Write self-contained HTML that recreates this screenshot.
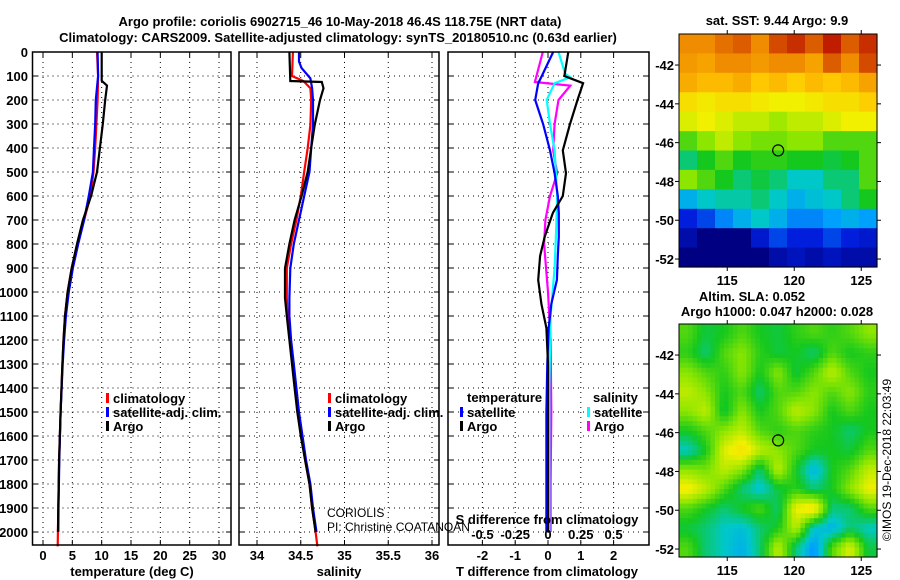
<!DOCTYPE html>
<html><head><meta charset="utf-8"><style>
body{margin:0;background:#fff;}
svg{display:block;font-family:"Liberation Sans",sans-serif;}
.b{font-weight:bold;font-size:13px;}
.t{font-weight:bold;font-size:13px;}
.n{font-weight:normal;font-size:12px;}
</style></head><body>
<svg id="c" width="900" height="580" viewBox="0 0 900 580"></svg>
<script>
// ---- profile data ----
const tArgoDepth=[0,120,140,200,300,400,500,600,700,800,900,1000,1100,1200,1300,1500,1700,1900,2000];
const tArgo=[10.0,10.0,10.9,10.6,10.2,9.7,9.2,8.2,6.8,5.8,4.9,4.2,3.75,3.5,3.3,3.0,2.75,2.6,2.55];
const tClimDepth=[0,100,200,300,400,500,600,700,800,900,1000,1100,1200,1300,1500,1700,1900,2060];
const tClim=[9.2,9.4,9.3,9.1,8.9,8.6,8.1,7.0,5.9,4.9,4.2,3.75,3.5,3.3,3.0,2.75,2.6,2.5];
const tSatDepth=[0,100,200,300,400,500,600,700,800,900,1000,1100,1200,1300,1500,1700,1900,2000];
const tSat=[9.3,9.4,9.0,8.9,8.7,8.5,7.8,7.0,6.0,5.1,4.4,3.9,3.6,3.35,3.0,2.78,2.65,2.6];
const sArgoDepth=[0,121,125,151,200,304,400,499,600,700,800,901,1025,1100,1200,1300,1400,1500,1600,1700,1800,1900,2000];
const sArgo=[34.37,34.38,34.74,34.76,34.72,34.66,34.62,34.58,34.51,34.43,34.37,34.32,34.32,34.34,34.37,34.40,34.43,34.46,34.5,34.55,34.6,34.63,34.67];
const sClimDepth=[0,100,121,151,200,304,400,499,600,700,800,901,1025,1100,1200,1300,1400,1500,1600,1700,1800,1900,2000,2060];
const sClim=[34.41,34.40,34.53,34.61,34.62,34.61,34.58,34.54,34.5,34.45,34.39,34.34,34.34,34.35,34.38,34.41,34.44,34.47,34.51,34.55,34.6,34.63,34.67,34.69];
const sSatDepth=[0,40,67,110,151,200,304,400,499,600,700,800,901,1025,1100,1200,1300,1400,1500,1600,1700,1800,1900,2000];
const sSat=[34.48,34.48,34.51,34.61,34.63,34.64,34.64,34.62,34.6,34.54,34.48,34.42,34.38,34.37,34.37,34.39,34.42,34.45,34.48,34.52,34.56,34.61,34.64,34.68];
const dDepth=[0,100,130,200,300,410,505,600,670,770,850,950,1050,1150,1300,1500,1800,2000];
const dTArgo=[0.62,0.5,1.07,0.9,0.67,0.45,0.55,0.45,0.15,-0.1,-0.24,-0.3,-0.2,-0.05,0,0,0,0];
const dTSat=[0.16,-0.19,-0.3,-0.39,-0.15,0.06,0.2,0.3,0.33,0.33,0.3,0.27,0.1,0.02,-0.02,-0.05,-0.05,-0.05];
const dSArgoDepth=[0,125,140,200,300,410,505,600,700,800,1000,1200,1500,1800,2000];
const dSArgo=[-0.04,-0.1,0.17,0.08,0.05,0.04,0.07,0.015,-0.02,-0.03,0.0,0.02,0.025,0.02,0.02];
const dSSatDepth=[0,90,105,130,200,300,410,600,770,900,1100,1400,1700,2000];
const dSSat=[0.08,0.13,0.17,0.05,-0.01,0.015,0.05,0.07,0.06,0.05,0.02,0.01,0.01,0.01];
const depthTicks=[0,100,200,300,400,500,600,700,800,900,1000,1100,1200,1300,1400,1500,1600,1700,1800,1900,2000];
const tempTicks=[0,5,10,15,20,25,30];
const salTicks=[34,34.5,35,35.5,36];
const dTTicks=[-2,-1,0,1,2];
const dSTicks=["-0.5","-0.25","0","0.25","0.5"];
const dSTickVals=[-0.5,-0.25,0,0.25,0.5];
// ---- map data (colormap index 0..1) ----
const sstGrid=[
[0.85,0.85,0.88,0.9,0.85,0.92,0.95,0.9,0.97,0.9,0.95],
[0.82,0.8,0.85,0.85,0.82,0.85,0.85,0.8,0.9,0.85,0.92],
[0.78,0.75,0.75,0.78,0.72,0.75,0.7,0.75,0.72,0.75,0.8],
[0.65,0.62,0.65,0.65,0.62,0.6,0.6,0.62,0.65,0.65,0.7],
[0.58,0.6,0.58,0.55,0.55,0.52,0.55,0.55,0.58,0.6,0.6],
[0.45,0.5,0.55,0.5,0.48,0.48,0.5,0.5,0.45,0.45,0.45],
[0.35,0.4,0.45,0.4,0.42,0.42,0.4,0.4,0.38,0.4,0.45],
[0.5,0.45,0.4,0.35,0.38,0.35,0.3,0.3,0.35,0.35,0.45],
[0.25,0.3,0.32,0.32,0.35,0.3,0.25,0.28,0.3,0.35,0.4],
[0.12,0.15,0.2,0.25,0.3,0.25,0.2,0.2,0.22,0.25,0.22],
[0.05,0.0,0.0,0.0,0.1,0.15,0.12,0.12,0.15,0.12,0.1],
[0.0,0.0,0.0,0.0,0.0,0.05,0.08,0.05,0.08,0.05,0.05]];
const slaGrid=[
[0.45,0.38,0.4,0.45,0.4,0.38,0.42,0.45,0.42,0.45,0.5],
[0.42,0.35,0.45,0.5,0.42,0.38,0.4,0.35,0.45,0.4,0.42],
[0.5,0.45,0.42,0.5,0.4,0.5,0.38,0.45,0.55,0.45,0.4],
[0.55,0.5,0.4,0.45,0.35,0.45,0.45,0.5,0.45,0.5,0.42],
[0.5,0.55,0.38,0.5,0.4,0.45,0.55,0.5,0.4,0.45,0.4],
[0.4,0.45,0.5,0.55,0.45,0.42,0.45,0.42,0.4,0.35,0.4],
[0.3,0.4,0.58,0.65,0.55,0.5,0.45,0.4,0.4,0.38,0.45],
[0.5,0.48,0.55,0.5,0.35,0.55,0.4,0.25,0.4,0.45,0.55],
[0.62,0.55,0.45,0.35,0.28,0.38,0.42,0.35,0.4,0.5,0.6],
[0.45,0.4,0.35,0.4,0.45,0.35,0.6,0.65,0.35,0.35,0.45],
[0.38,0.35,0.3,0.28,0.35,0.4,0.55,0.3,0.25,0.35,0.3],
[0.45,0.35,0.3,0.25,0.35,0.55,0.35,0.2,0.45,0.58,0.38]];
const lonTicks=[115,120,125];
const latTicks=[-42,-44,-46,-48,-50,-52];
const argoLon=118.8, argoLat=-46.4;

const svg=document.getElementById('c');
const NS='http://www.w3.org/2000/svg';
function mk(tag,attrs,parent){const e=document.createElementNS(NS,tag);for(const k in attrs)e.setAttribute(k,attrs[k]);(parent||svg).appendChild(e);return e;}
function txt(x,y,s,anchor,cls,parent){const e=mk('text',{x:x,y:y,'text-anchor':anchor||'start','class':cls||'b'},parent);e.textContent=s;return e;}

const pTop=52,pBot=545;
const yD=d=>pTop+d*0.24;
function panel(name){
  const g=mk('g',{});
  
  
  return g;
}
function gridH(g,x0,x1){depthTicks.forEach(d=>{mk('line',{x1:x0,x2:x1,y1:yD(d),y2:yD(d),stroke:'#000','stroke-dasharray':'1 4','stroke-width':1},g);
 mk('line',{x1:x0,x2:x0+5,y1:yD(d),y2:yD(d),stroke:'#000'},g);mk('line',{x1:x1-5,x2:x1,y1:yD(d),y2:yD(d),stroke:'#000'},g);});}
function gridV(g,xs){xs.forEach(x=>{mk('line',{x1:x,x2:x,y1:pTop,y2:pBot,stroke:'#000','stroke-dasharray':'1 4'},g);
 mk('line',{x1:x,x2:x,y1:pBot-5,y2:pBot,stroke:'#000'},g);mk('line',{x1:x,x2:x,y1:pTop,y2:pTop+5,stroke:'#000'},g);});}
function line(g,xs,ds,xf,color,name,w){
  const pts=xs.map((v,i)=>xf(v).toFixed(1)+','+yD(ds[i]).toFixed(1)).join(' ');
  const p=mk('polyline',{points:pts,fill:'none',stroke:color,'stroke-width':w||2.2,'stroke-linejoin':'miter'},g);
  
  
}
function legend(g,x,y,color,label,name){
  const gg=mk('g',{},g);
  
  
  mk('rect',{x:x,y:y-9,width:3,height:10,fill:color},gg);
  txt(x+7,y+1,label,'start','b',gg);
}

const tt=txt(340,26,'Argo profile: coriolis 6902715_46 10-May-2018 46.4S 118.75E (NRT data)','middle','t');

const t2=txt(338,42,'Climatology: CARS2009. Satellite-adjusted climatology: synTS_20180510.nc (0.63d earlier)','middle','t');


{const x0=32.5,x1=231;const xT=v=>43+v*5.867;
 const g=panel('temperature-panel');
 gridH(g,x0,x1);gridV(g,tempTicks.map(xT));
 depthTicks.forEach(d=>{const e=txt(28,yD(d)+5,String(d),'end','b',g);});
 tempTicks.forEach(v=>txt(xT(v),560,String(v),'middle','b',g));
 line(g,tClim,tClimDepth,xT,'#f00','temp-climatology-line');
 line(g,tSat,tSatDepth,xT,'#00f','temp-satellite-line');
 line(g,tArgo,tArgoDepth,xT,'#000','temp-argo-line');
 mk('rect',{x:x0,y:pTop,width:x1-x0,height:pBot-pTop,fill:'none',stroke:'#000','stroke-width':1.5},g);
 const at=txt(132,576,'temperature (deg C)','middle','b',g);
 legend(g,106,402,'#f00','climatology','legend-climatology');
 legend(g,106,416,'#00f','satellite-adj. clim.','legend-satellite');
 legend(g,106,430,'#000','Argo','legend-argo');
}
{const x0=239,x1=439;const xS=v=>257+(v-34)*87.5;
 const g=panel('salinity-panel');
 gridH(g,x0,x1);gridV(g,salTicks.map(xS));
 salTicks.forEach(v=>txt(xS(v),560,String(v),'middle','b',g));
 line(g,sClim,sClimDepth,xS,'#f00','sal-climatology-line');
 line(g,sSat,sSatDepth,xS,'#00f','sal-satellite-line');
 line(g,sArgo,sArgoDepth,xS,'#000','sal-argo-line');
 mk('rect',{x:x0,y:pTop,width:x1-x0,height:pBot-pTop,fill:'none',stroke:'#000','stroke-width':1.5},g);
 const at=txt(339,576,'salinity','middle','b',g);
 legend(g,328,402,'#f00','climatology','legend-climatology');
 legend(g,328,416,'#00f','satellite-adj. clim.','legend-satellite');
 legend(g,328,430,'#000','Argo','legend-argo');
}
{const x0=448,x1=649;const xT=v=>548+v*32.8;const xS=v=>548+v*131.2;
 const g=panel('difference-panel');
 gridH(g,x0,x1);gridV(g,dTTicks.map(xT));
 dTTicks.forEach(v=>txt(xT(v),560,String(v),'middle','b',g));
 line(g,dSArgo,dSArgoDepth,xS,'#f0f','sal-diff-argo-line');
 line(g,dSSat,dSSatDepth,xS,'#0ff','sal-diff-satellite-line');
 line(g,dTSat,dDepth,xT,'#00f','temp-diff-satellite-line');
 line(g,dTArgo,dDepth,xT,'#000','temp-diff-argo-line');
 mk('rect',{x:x0,y:pTop,width:x1-x0,height:pBot-pTop,fill:'none',stroke:'#000','stroke-width':1.5},g);
 const st=txt(547,524,'S difference from climatology','middle','b',g);
 dSTicks.forEach((s,i)=>txt(xS(dSTickVals[i]),539,s,'middle','b',g));
 const at=txt(547,576,'T difference from climatology','middle','b',g);
 txt(467,402,'temperature','start','b',g);
 legend(g,460,416,'#00f','satellite','legend-temp-satellite');
 legend(g,460,430,'#000','Argo','legend-temp-argo');
 txt(593,402,'salinity','start','b',g);
 legend(g,587,416,'#0ff','satellite','legend-sal-satellite');
 legend(g,587,430,'#f0f','Argo','legend-sal-argo');
}
const c1=txt(327,517,'CORIOLIS','start','n');

const c2=txt(327,531,'PI: Christine COATANOAN','start','n');


function jet(v){v=Math.max(0,Math.min(1,v));
 const stops=[[0,[0,0,130]],[0.12,[0,30,220]],[0.22,[0,160,255]],[0.3,[0,200,200]],[0.4,[20,200,30]],[0.5,[140,230,0]],[0.6,[240,240,0]],[0.72,[255,200,0]],[0.85,[240,140,0]],[1,[180,0,0]]];
 for(let i=1;i<stops.length;i++){if(v<=stops[i][0]){const a=stops[i-1],b=stops[i];const t=(v-a[0])/(b[0]-a[0]);
  const c=a[1].map((x,k)=>Math.round(x+(b[1][k]-x)*t));return 'rgb('+c.join(',')+')';}}
 return 'rgb(180,0,0)';}
function sample(grid,fi,fj){
 const R=grid.length,C=grid[0].length;
 const i0=Math.max(0,Math.min(R-1,Math.floor(fi))),j0=Math.max(0,Math.min(C-1,Math.floor(fj)));
 const i1=Math.min(R-1,i0+1),j1=Math.min(C-1,j0+1);
 const a=Math.max(0,Math.min(1,fi-i0)),b=Math.max(0,Math.min(1,fj-j0));
 return grid[i0][j0]*(1-a)*(1-b)+grid[i0][j1]*(1-a)*b+grid[i1][j0]*a*(1-b)+grid[i1][j1]*a*b;
}
function drawMap(y0,grid,name,smooth){
 const x0=679,x1=877,y1=y0+233;
 const xL=v=>x0+(v-111.4)*13.4, yL=v=>y0+(-40.4-v)*19.4;
 const g=mk('g',{});
 
 const rows=grid.length,cols=grid[0].length;
 const sub=smooth?4:1;
 const R=rows*sub,C=cols*sub;
 const cw=(x1-x0)/C,ch=(y1-y0)/R;
 for(let i=0;i<R;i++)for(let j=0;j<C;j++){
  const v=smooth?sample(grid,(i+0.5)/sub-0.5,(j+0.5)/sub-0.5):grid[i][j];
  const c=mk('rect',{x:(x0+j*cw).toFixed(1),y:(y0+i*ch).toFixed(1),width:(cw+0.6).toFixed(1),height:(ch+0.6).toFixed(1),fill:jet(v)},g);
  
  
 }
 mk('rect',{x:x0,y:y0,width:x1-x0,height:y1-y0,fill:'none',stroke:'#000','stroke-width':1},g);
 lonTicks.forEach(v=>{mk('line',{x1:xL(v),x2:xL(v),y1:y0-4,y2:y0,stroke:'#000'},g);mk('line',{x1:xL(v),x2:xL(v),y1:y1,y2:y1+4,stroke:'#000'},g);txt(xL(v),y1+18,String(v),'middle','b',g);});
 latTicks.forEach(v=>{mk('line',{x1:x1,x2:x1+4,y1:yL(v),y2:yL(v),stroke:'#000'},g);mk('line',{x1:x0-4,x2:x0,y1:yL(v),y2:yL(v),stroke:'#000'},g);txt(674,yL(v)+5,String(v),'end','b',g);});
 const m=mk('circle',{cx:xL(argoLon),cy:yL(argoLat),r:5.5,fill:'none',stroke:'#000','stroke-width':1.2},g);
 
}
drawMap(34,sstGrid,'sst-map',false);
drawMap(324,slaGrid,'sla-map',true);
const m1=txt(777,25,'sat. SST: 9.44 Argo: 9.9','middle','b');
const m2=txt(752,301,'Altim. SLA: 0.052','middle','b');
const m3=txt(777,316,'Argo h1000: 0.047 h2000: 0.028','middle','b');
const cr=txt(0,0,'©IMOS 19-Dec-2018 22:03:49','middle','n');cr.setAttribute('font-size','13');
cr.setAttribute('transform','translate(891,460) rotate(-90)');

</script>
</body></html>
